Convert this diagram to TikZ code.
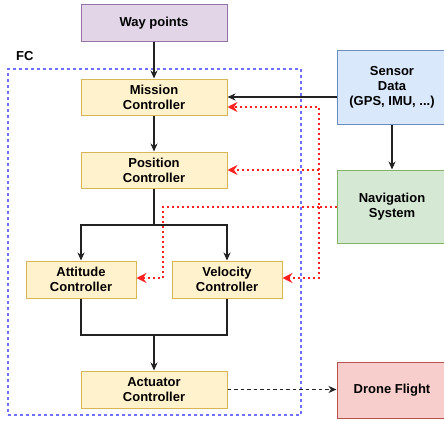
\documentclass[tikz,border=0pt]{standalone}
\usepackage{fontspec}
\setmainfont{Liberation Sans}
\usetikzlibrary{arrows.meta}
\definecolor{ylwF}{HTML}{FFF2CC}\definecolor{ylwD}{HTML}{D6B656}
\definecolor{purF}{HTML}{E1D5E7}\definecolor{purD}{HTML}{9673A6}
\definecolor{bluF}{HTML}{DAE8FC}\definecolor{bluD}{HTML}{6C8EBF}
\definecolor{grnF}{HTML}{D5E8D4}\definecolor{grnD}{HTML}{82B366}
\definecolor{redF}{HTML}{F8CECC}\definecolor{redD}{HTML}{B85450}
\definecolor{fcD}{HTML}{7070FF}
\definecolor{lineC}{HTML}{222222}
\definecolor{fbC}{HTML}{FF2020}
\begin{document}
\begin{tikzpicture}[x=1pt,y=-1pt,
  box/.style={draw, line width=1pt, align=center, font=\fontsize{13}{15}\selectfont\bfseries, inner sep=0pt, text=black},
  ctl/.style={box, fill=ylwF, draw=ylwD},
  flow/.style={draw=lineC, line width=1.2pt, -{Stealth[length=8pt,width=7pt,inset=2.5pt]}},
  fb/.style={draw=fbC, line width=2pt, dash pattern=on 2pt off 3pt, -{Stealth[length=10pt,width=10pt,inset=3.5pt]}},
  ]
\useasboundingbox (0,0) rectangle (444,420);
\fill[white] (0,0) rectangle (444,420);
% FC container
\node[draw=fcD, dash pattern=on 3pt off 3pt, line width=1.1pt, minimum width=293pt, minimum height=346pt, inner sep=0pt] (fc) at (154.5,242) {};
\node[font=\fontsize{13}{15}\selectfont\bfseries, anchor=base west, inner sep=0pt] (fclbl) at (16,60) {FC};
% nodes
\node[box, fill=purF, draw=purD, minimum width=146pt, minimum height=37pt] (way) at (154,23.5) {Way points};
\node[ctl, minimum width=146pt, minimum height=36pt] (mis) at (154,97) {Mission\\Controller};
\node[ctl, minimum width=146pt, minimum height=36pt] (pos) at (154,170) {Position\\Controller};
\node[ctl, minimum width=110pt, minimum height=37pt] (att) at (81,279.5) {Attitude\\Controller};
\node[ctl, minimum width=110pt, minimum height=37pt] (vel) at (227,279.5) {Velocity\\Controller};
\node[ctl, minimum width=146pt, minimum height=37pt] (act) at (154,389.5) {Actuator\\Controller};
\node[box, fill=bluF, draw=bluD, minimum width=110pt, minimum height=73pt] (sen) at (392,87.5) {Sensor\\Data\\(GPS, IMU, ...)};
\node[box, fill=grnF, draw=grnD, minimum width=110pt, minimum height=73pt] (nav) at (392,206.5) {Navigation\\System};
\node[box, fill=redF, draw=redD, minimum width=110pt, minimum height=56pt] (dro) at (392,390) {Drone Flight};
% black flows
\draw[flow] (way) -- (mis);
\draw[flow] (sen.west |- mis.east) -- (mis.east);
\draw[flow] (sen) -- (nav);
\draw[flow] (mis) -- (pos);
\coordinate (split) at (154,225);
\coordinate (join) at (154,335);
\draw[flow] (pos.south) -- (split) -| (att.north);
\draw[flow] (split) -| (vel.north);
\draw[draw=lineC, line width=1.2pt] (att.south) |- (join) -| (vel.south);
\draw[flow] (join) -- (act.north);
\draw[flow, dash pattern=on 3.5pt off 3pt] (act.east) -- (dro.west |- act.east);
% red feedback
\coordinate (rv) at (319,207);
\coordinate (ra) at (163,207);
\draw[fb] (nav.west |- rv) -- (rv) -- (319,107) -- (mis.east |- 0,107);
\draw[fb] (319,170) -- (pos.east |- 0,170);
\draw[fb] (rv) -- (319,278) -- (vel.east |- 0,278);
\draw[fb] (rv) -- (ra) -- (163,278) -- (att.east |- 0,278);
\end{tikzpicture}
\end{document}
